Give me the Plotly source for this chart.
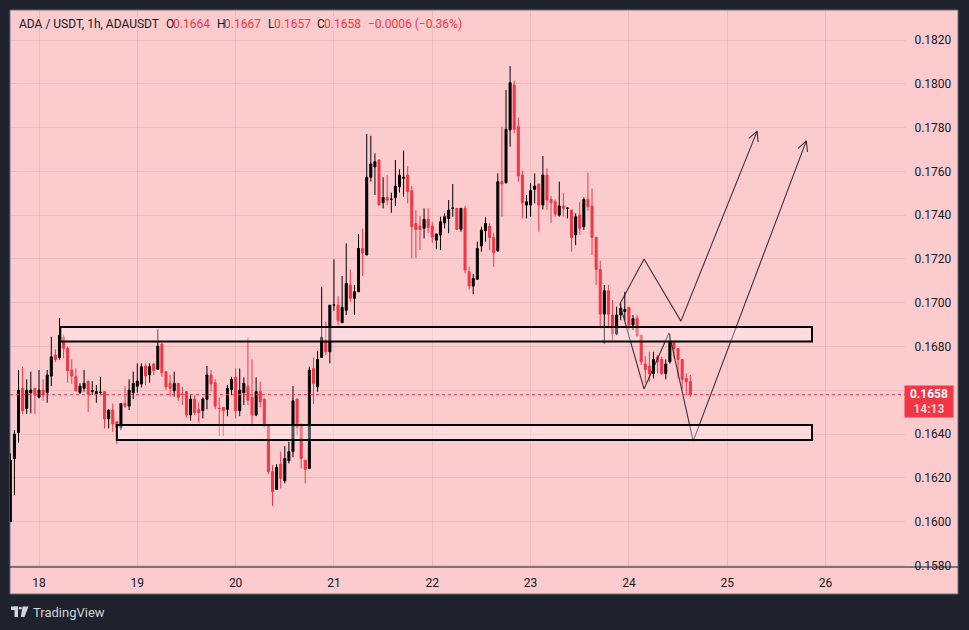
import math
import pandas as pd
import plotly.graph_objects as go

# ---------------- data ----------------
open_ = [
    0.16000, 0.16289, 0.16406, 0.16609, 0.16517, 0.16589, 0.16609, 0.16568, 0.16601, 0.16589,
    0.16665, 0.16761, 0.16750, 0.16842, 0.16792, 0.16693, 0.16662, 0.16589, 0.16609, 0.16642,
    0.16594, 0.16583, 0.16590, 0.16594, 0.16469, 0.16510, 0.16456, 0.16431, 0.16540, 0.16528,
    0.16589, 0.16619, 0.16629, 0.16711, 0.16670, 0.16720, 0.16696, 0.16811, 0.16685, 0.16632,
    0.16598, 0.16632, 0.16583, 0.16594, 0.16487, 0.16560, 0.16513, 0.16507, 0.16559, 0.16670,
    0.16635, 0.16518, 0.16522, 0.16513, 0.16604, 0.16659, 0.16507, 0.16589, 0.16619, 0.16568,
    0.16487, 0.16594, 0.16560, 0.16441, 0.16228, 0.16147, 0.16263, 0.16187, 0.16278, 0.16320,
    0.16560, 0.16441, 0.16281, 0.16243, 0.16700, 0.16616, 0.16750, 0.16830, 0.16776, 0.16989,
    0.16989, 0.16909, 0.16966, 0.17081, 0.17020, 0.17050, 0.17248, 0.17218, 0.17573, 0.17621,
    0.17652, 0.17457, 0.17481, 0.17472, 0.17481, 0.17530, 0.17568, 0.17583, 0.17512, 0.17362,
    0.17350, 0.17340, 0.17381, 0.17350, 0.17286, 0.17309, 0.17365, 0.17385, 0.17431, 0.17431,
    0.17335, 0.17431, 0.17142, 0.17076, 0.17107, 0.17259, 0.17329, 0.17350, 0.17298, 0.17237,
    0.17553, 0.17548, 0.17789, 0.17994, 0.17804, 0.17583, 0.17446, 0.17446, 0.17517, 0.17542,
    0.17446, 0.17583, 0.17472, 0.17461, 0.17400, 0.17442, 0.17431, 0.17423, 0.17310, 0.17400,
    0.17347, 0.17472, 0.17442, 0.17299, 0.17152, 0.16948, 0.17055, 0.16944, 0.16857, 0.16944,
    0.16960, 0.16979, 0.16898, 0.16928, 0.16852, 0.16720, 0.16711, 0.16677, 0.16753, 0.16741,
    0.16677, 0.16730, 0.16822, 0.16791, 0.16741, 0.16654, 0.16640,
]
high = [
    0.16312, 0.16418, 0.16693, 0.16708, 0.16650, 0.16685, 0.16609, 0.16693, 0.16650, 0.16693,
    0.16845, 0.16787, 0.16930, 0.16855, 0.16800, 0.16741, 0.16700, 0.16632, 0.16693, 0.16642,
    0.16642, 0.16624, 0.16662, 0.16595, 0.16512, 0.16540, 0.16458, 0.16541, 0.16619, 0.16650,
    0.16685, 0.16723, 0.16723, 0.16723, 0.16723, 0.16725, 0.16878, 0.16817, 0.16686, 0.16670,
    0.16685, 0.16633, 0.16616, 0.16595, 0.16578, 0.16578, 0.16548, 0.16568, 0.16711, 0.16693,
    0.16650, 0.16568, 0.16523, 0.16624, 0.16662, 0.16700, 0.16700, 0.16659, 0.16842, 0.16741,
    0.16659, 0.16639, 0.16561, 0.16442, 0.16258, 0.16263, 0.16320, 0.16345, 0.16365, 0.16619,
    0.16561, 0.16449, 0.16282, 0.16708, 0.16750, 0.16781, 0.17073, 0.16913, 0.16989, 0.17198,
    0.17030, 0.17122, 0.17271, 0.17152, 0.17081, 0.17314, 0.17339, 0.17771, 0.17762, 0.17682,
    0.17653, 0.17573, 0.17583, 0.17503, 0.17652, 0.17609, 0.17695, 0.17624, 0.17533, 0.17423,
    0.17396, 0.17431, 0.17431, 0.17370, 0.17315, 0.17393, 0.17408, 0.17469, 0.17542, 0.17432,
    0.17432, 0.17442, 0.17164, 0.17131, 0.17279, 0.17347, 0.17390, 0.17362, 0.17320, 0.17591,
    0.17804, 0.17972, 0.18081, 0.18014, 0.17847, 0.17603, 0.17492, 0.17548, 0.17591, 0.17543,
    0.17670, 0.17614, 0.17487, 0.17472, 0.17553, 0.17502, 0.17436, 0.17424, 0.17408, 0.17461,
    0.17481, 0.17594, 0.17522, 0.17300, 0.17192, 0.17081, 0.17081, 0.17012, 0.16982, 0.16997,
    0.17050, 0.16980, 0.16944, 0.16944, 0.16853, 0.16756, 0.16776, 0.16776, 0.16761, 0.16753,
    0.16741, 0.16860, 0.16829, 0.16792, 0.16742, 0.16677, 0.16670,
]
low = [
    0.16000, 0.16121, 0.16361, 0.16492, 0.16492, 0.16495, 0.16492, 0.16563, 0.16552, 0.16543,
    0.16619, 0.16730, 0.16740, 0.16746, 0.16635, 0.16629, 0.16594, 0.16583, 0.16594, 0.16502,
    0.16578, 0.16543, 0.16578, 0.16426, 0.16426, 0.16411, 0.16355, 0.16418, 0.16520, 0.16510,
    0.16560, 0.16590, 0.16613, 0.16624, 0.16635, 0.16670, 0.16693, 0.16662, 0.16601, 0.16571,
    0.16571, 0.16552, 0.16533, 0.16476, 0.16461, 0.16487, 0.16452, 0.16472, 0.16513, 0.16594,
    0.16513, 0.16391, 0.16391, 0.16482, 0.16578, 0.16472, 0.16482, 0.16533, 0.16533, 0.16434,
    0.16482, 0.16522, 0.16431, 0.16217, 0.16071, 0.16144, 0.16152, 0.16175, 0.16266, 0.16294,
    0.16396, 0.16243, 0.16175, 0.16239, 0.16537, 0.16593, 0.16750, 0.16761, 0.16723, 0.16963,
    0.16898, 0.16909, 0.16944, 0.17005, 0.16944, 0.17050, 0.17122, 0.17218, 0.17553, 0.17492,
    0.17445, 0.17431, 0.17446, 0.17411, 0.17442, 0.17503, 0.17484, 0.17454, 0.17203, 0.17203,
    0.17241, 0.17294, 0.17317, 0.17274, 0.17244, 0.17240, 0.17340, 0.17317, 0.17393, 0.17332,
    0.17324, 0.17134, 0.17061, 0.17039, 0.17104, 0.17233, 0.17279, 0.17241, 0.17164, 0.17233,
    0.17393, 0.17545, 0.17713, 0.17774, 0.17553, 0.17385, 0.17385, 0.17393, 0.17454, 0.17324,
    0.17426, 0.17423, 0.17365, 0.17393, 0.17393, 0.17393, 0.17385, 0.17233, 0.17263, 0.17310,
    0.17332, 0.17420, 0.17218, 0.17081, 0.16883, 0.16814, 0.16883, 0.16822, 0.16852, 0.16920,
    0.16920, 0.16875, 0.16875, 0.16845, 0.16715, 0.16634, 0.16639, 0.16654, 0.16677, 0.16670,
    0.16650, 0.16723, 0.16746, 0.16654, 0.16604, 0.16578, 0.16570,
]
close = [
    0.16281, 0.16400, 0.16601, 0.16507, 0.16601, 0.16601, 0.16578, 0.16601, 0.16578, 0.16670,
    0.16753, 0.16741, 0.16852, 0.16792, 0.16690, 0.16665, 0.16598, 0.16619, 0.16632, 0.16583,
    0.16599, 0.16594, 0.16591, 0.16469, 0.16510, 0.16446, 0.16431, 0.16540, 0.16528, 0.16601,
    0.16632, 0.16642, 0.16708, 0.16665, 0.16708, 0.16690, 0.16802, 0.16680, 0.16616, 0.16609,
    0.16632, 0.16568, 0.16582, 0.16487, 0.16560, 0.16498, 0.16498, 0.16560, 0.16670, 0.16629,
    0.16528, 0.16517, 0.16507, 0.16609, 0.16650, 0.16507, 0.16601, 0.16632, 0.16555, 0.16487,
    0.16594, 0.16548, 0.16437, 0.16228, 0.16137, 0.16248, 0.16198, 0.16289, 0.16320, 0.16552,
    0.16431, 0.16289, 0.16239, 0.16692, 0.16631, 0.16741, 0.16842, 0.16776, 0.16989, 0.16990,
    0.16918, 0.16979, 0.17088, 0.17020, 0.17050, 0.17248, 0.17228, 0.17573, 0.17634, 0.17644,
    0.17446, 0.17481, 0.17469, 0.17473, 0.17533, 0.17583, 0.17573, 0.17507, 0.17347, 0.17335,
    0.17335, 0.17381, 0.17344, 0.17299, 0.17314, 0.17370, 0.17393, 0.17423, 0.17432, 0.17335,
    0.17431, 0.17149, 0.17076, 0.17111, 0.17248, 0.17332, 0.17362, 0.17298, 0.17228, 0.17553,
    0.17542, 0.17792, 0.18005, 0.17792, 0.17579, 0.17457, 0.17461, 0.17512, 0.17533, 0.17446,
    0.17583, 0.17469, 0.17457, 0.17405, 0.17442, 0.17431, 0.17432, 0.17298, 0.17393, 0.17340,
    0.17472, 0.17439, 0.17299, 0.17152, 0.16948, 0.17055, 0.16948, 0.16857, 0.16944, 0.16974,
    0.16970, 0.16898, 0.16928, 0.16848, 0.16730, 0.16695, 0.16677, 0.16741, 0.16730, 0.16677,
    0.16720, 0.16822, 0.16791, 0.16741, 0.16650, 0.16639, 0.16580,
]
first_candle = "2024-10-17 17:00"

day_ticks = ["2024-10-18", "2024-10-19", "2024-10-20", "2024-10-21", "2024-10-22",
             "2024-10-23", "2024-10-24", "2024-10-25", "2024-10-26"]
day_labels = ["18", "19", "20", "21", "22", "23", "24", "25", "26"]
price_ticks = [0.158, 0.160, 0.162, 0.164, 0.166, 0.168, 0.170, 0.172, 0.174,
               0.176, 0.178, 0.180, 0.182]
price_labels = ["0.1580", "0.1600", "0.1620", "0.1640", "0.1660", "0.1680", "0.1700",
                "0.1720", "0.1740", "0.1760", "0.1780", "0.1800", "0.1820"]

header_title = "ADA / USDT, 1h, ADAUSDT"
header_change = "\u22120.0006 (\u22120.36%)"
countdown = "14:13"

# drawings (time, price)
zone_upper = ("2024-10-18 05:12", "2024-10-25 20:42", 0.16823, 0.16889)
zone_lower = ("2024-10-18 19:00", "2024-10-25 20:42", 0.16373, 0.16441)
path_a_t = ["2024-10-23 21:48", "2024-10-24 03:42", "2024-10-24 12:42", "2024-10-25 07:18"]
path_a_p = [0.16994, 0.17200, 0.16916, 0.17784]
path_b_t = ["2024-10-23 21:48", "2024-10-24 03:42", "2024-10-24 09:48", "2024-10-24 15:42",
            "2024-10-25 19:18"]
path_b_p = [0.16994, 0.16606, 0.16862, 0.16368, 0.17739]

# ---------------- layout geometry / style ----------------
W_FIG, H_FIG = 969, 630
PL, PT, PR, PB = 10, 10, 905, 567          # plot area in px
PW, PH = PR - PL, PB - PT
X0 = pd.Timestamp("2024-10-18") + pd.Timedelta(hours=-7.08)
X1 = pd.Timestamp("2024-10-18") + pd.Timedelta(hours=211.4)
Y0, Y1 = 0.15793, 0.18337

BG = "#fccbce"
FRAME = "#1e222d"
RED = "#f23645"
TXT = "#131722"
GRID = "rgba(170,110,118,0.16)"
FONT = "Roboto"


def pxx(x):
    return (x - PL) / PW


def pxy(y):
    return (PB - y) / PH


times = pd.date_range(first_candle, periods=len(open_), freq="h")

fig = go.Figure()
fig.add_trace(go.Candlestick(
    x=times, open=open_, high=high, low=low, close=close,
    increasing=dict(line=dict(color="#000000", width=1), fillcolor="#000000"),
    decreasing=dict(line=dict(color=RED, width=1), fillcolor=RED),
    whiskerwidth=0, hoverinfo="skip", showlegend=False,
))


def arrow_head(t_prev, p_prev, t_end, p_end, arm=11, ang=27):
    sx = PW / (X1 - X0).total_seconds()
    sy = PH / (Y1 - Y0)
    te, tp = pd.Timestamp(t_end), pd.Timestamp(t_prev)
    dx = (te - tp).total_seconds() * sx
    dy = (p_end - p_prev) * sy
    n = math.hypot(dx, dy)
    ux, uy = -dx / n, -dy / n
    pts_t, pts_p = [], []
    for s in (1, -1):
        a = math.radians(ang) * s
        bx = ux * math.cos(a) - uy * math.sin(a)
        by = ux * math.sin(a) + uy * math.cos(a)
        pts_t.append(te + pd.Timedelta(seconds=bx * arm / sx))
        pts_p.append(p_end + by * arm / sy)
    return [pts_t[0], te, pts_t[1]], [pts_p[0], p_end, pts_p[1]]


LINE_C = "rgba(25,25,30,0.85)"
for pt, pp in ((path_a_t, path_a_p), (path_b_t, path_b_p)):
    fig.add_trace(go.Scatter(x=pd.to_datetime(pt), y=pp, mode="lines",
                             line=dict(color=LINE_C, width=1.1),
                             hoverinfo="skip", showlegend=False))
    ht, hp = arrow_head(pt[-2], pp[-2], pt[-1], pp[-1])
    fig.add_trace(go.Scatter(x=ht, y=hp, mode="lines",
                             line=dict(color=LINE_C, width=1.1),
                             hoverinfo="skip", showlegend=False))

shapes = []
# chart panel (includes price & time scales)
shapes.append(dict(type="rect", xref="paper", yref="paper",
                   x0=pxx(10), x1=pxx(958), y0=pxy(594), y1=pxy(10),
                   fillcolor=BG, line=dict(color="#6b6e78", width=1), layer="below"))
# zones
for z in (zone_upper, zone_lower):
    shapes.append(dict(type="rect", xref="x", yref="y", x0=z[0], x1=z[1], y0=z[2], y1=z[3],
                       fillcolor="rgba(255,255,255,0.32)",
                       line=dict(color="#000000", width=2), layer="above"))
# time-axis border line
shapes.append(dict(type="line", xref="paper", yref="paper", x0=pxx(10), x1=pxx(958),
                   y0=0, y1=0, line=dict(color=TXT, width=1)))
# last price dotted line
shapes.append(dict(type="line", xref="paper", yref="y", x0=0, x1=1,
                   y0=close[-1], y1=close[-1], line=dict(color=RED, width=1, dash="dot")))
# TradingView logo
LOGO = "#d1d4dc"
shapes.append(dict(type="rect", xref="paper", yref="paper", x0=pxx(11), x1=pxx(18),
                   y0=pxy(610), y1=pxy(606.5), fillcolor=LOGO, line_width=0))
shapes.append(dict(type="rect", xref="paper", yref="paper", x0=pxx(14.5), x1=pxx(18),
                   y0=pxy(617), y1=pxy(606.5), fillcolor=LOGO, line_width=0))
shapes.append(dict(type="circle", xref="paper", yref="paper", x0=pxx(18.8), x1=pxx(21.6),
                   y0=pxy(609.6), y1=pxy(606.8), fillcolor=LOGO, line_width=0))
shapes.append(dict(type="path", xref="paper", yref="paper",
                   path=f"M {pxx(22.5)} {pxy(606.5)} L {pxx(28.5)} {pxy(606.5)} "
                        f"L {pxx(24.5)} {pxy(617)} L {pxx(20.8)} {pxy(617)} Z",
                   fillcolor=LOGO, line_width=0))

annotations = []
header = [
    (header_title, 18, TXT), ("O", 165, TXT), (f"{open_[-1]:.4f}", 172, RED),
    ("H", 216, TXT), (f"{high[-1]:.4f}", 223, RED),
    ("L", 267, TXT), (f"{low[-1]:.4f}", 273, RED),
    ("C", 316, TXT), (f"{close[-1]:.4f}", 323, RED),
    (header_change, 367, RED),
]
for text, xp, col in header:
    annotations.append(dict(text=text, xref="paper", yref="paper", x=pxx(xp - 1), y=pxy(24),
                            xanchor="left", yanchor="middle", showarrow=False,
                            font=dict(family=FONT, size=12, color=col)))
annotations.append(dict(
    text=f"<b>{close[-1]:.4f}</b><br><span style='color:rgba(255,255,255,0.78)'><b>{countdown}</b></span>",
    xref="paper", yref="y", x=pxx(929), y=close[-1], yshift=-7,
    xanchor="center", yanchor="middle", showarrow=False, align="center",
    bgcolor=RED, borderpad=2, width=44, height=27,
    font=dict(family=FONT, size=12, color="#ffffff")))
annotations.append(dict(text="TradingView", xref="paper", yref="paper", x=pxx(31), y=pxy(612),
                        xanchor="left", yanchor="middle", showarrow=False,
                        font=dict(family=FONT, size=13, color=LOGO)))

fig.update_layout(
    width=W_FIG, height=H_FIG, autosize=False,
    margin=dict(l=PL, r=W_FIG - PR, t=PT, b=H_FIG - PB, pad=0),
    paper_bgcolor=FRAME, plot_bgcolor=BG,
    showlegend=False, hovermode=False, dragmode=False,
    shapes=shapes, annotations=annotations,
    font=dict(family=FONT, size=12, color=TXT),
    xaxis=dict(type="date", range=[X0, X1], tickvals=day_ticks, ticktext=day_labels,
               showgrid=True, gridcolor=GRID, gridwidth=1, zeroline=False, showline=False,
               ticks="outside", ticklen=5, tickcolor="rgba(0,0,0,0)",
               tickfont=dict(family=FONT, size=12, color=TXT),
               rangeslider=dict(visible=False), fixedrange=True),
    yaxis=dict(side="right", range=[Y0, Y1], tickvals=price_ticks, ticktext=price_labels,
               showgrid=True, gridcolor=GRID, gridwidth=1, zeroline=False, showline=False,
               ticks="outside", ticklen=6, tickcolor="rgba(0,0,0,0)",
               tickfont=dict(family=FONT, size=12, color=TXT), fixedrange=True),
)

fig.write_html("out.html", config=dict(displayModeBar=False))
